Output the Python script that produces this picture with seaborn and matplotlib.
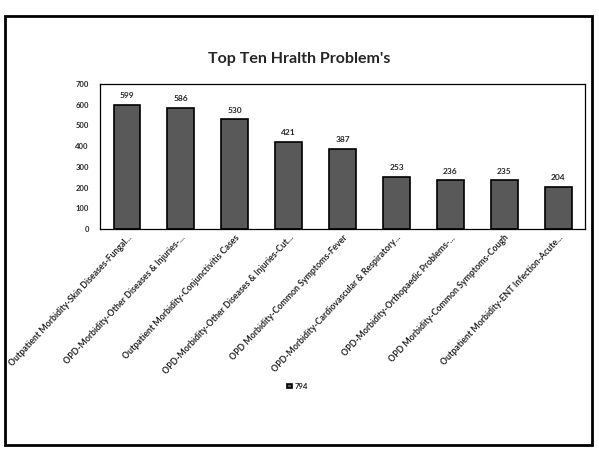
from matplotlib import pyplot as plt
from matplotlib.patches import Rectangle
import pandas as pd
import seaborn as sns

# data
problems = [
    "Outpatient Morbidity-Skin Diseases-Fungal...",
    "OPD-Morbidity-Other Diseases & Injuries-...",
    "Outpatient Morbidity-Conjunctivitis Cases",
    "OPD-Morbidity-Other Diseases & Injuries-Cut...",
    "OPD Morbidity-Common Symptoms-Fever",
    "OPD-Morbidity-Cardiovascular & Respiratory...",
    "OPD-Morbidity-Orthopaedic Problems-...",
    "OPD Morbidity-Common Symptoms-Cough",
    "Outpatient Morbidity-ENT Infection-Acute...",
]
counts = [599, 586, 530, 421, 387, 253, 236, 235, 204]
series_name = "794"

df = pd.DataFrame({"problem": problems, "count": counts})

sns.set_style("white")
plt.rcParams["font.family"] = ["Lato", "DejaVu Sans"]
fig = plt.figure(figsize=(5.99, 4.49), dpi=100)
ax = fig.add_axes([0.167, 0.49, 0.81, 0.323])

sns.barplot(data=df, x="problem", y="count", color="#595959", edgecolor="black",
            linewidth=1.2, width=0.5, saturation=1, label=series_name, ax=ax)

# value labels on top of the bars
for c in ax.containers:
    ax.bar_label(c, fmt="%d", padding=4, fontsize=6, fontweight="bold")

ax.set_ylim(0, 700)
ax.set_yticks(range(0, 701, 100))
ax.tick_params(axis="y", labelsize=5.5, length=0, pad=8)
for t in ax.get_yticklabels():
    t.set_fontweight("bold")
ax.set_xticks(range(len(problems)))
ax.set_xticklabels(problems, rotation=47, ha="right", rotation_mode="anchor",
                   fontsize=6.3, fontweight="bold")
ax.tick_params(axis="x", length=0, pad=3)
ax.set_xlabel("")
ax.set_ylabel("")
for s in ax.spines.values():
    s.set_color("black")
    s.set_linewidth(0.9)

fig.suptitle("Top Ten Hralth Problem's", x=0.5, y=0.885, fontsize=11.5,
             fontweight="bold")
ax.legend(loc="center", bbox_to_anchor=(0.497, 0.14),
          bbox_transform=fig.transFigure, frameon=False,
          prop={"size": 5.5, "weight": "bold"},
          handlelength=0.6, handleheight=0.6, handletextpad=0.4)

# slide frame
fig.patches.append(Rectangle((0.008, 0.01), 0.98, 0.955, transform=fig.transFigure,
                             fill=False, edgecolor="black", linewidth=2))

fig.savefig("out.png", dpi=100)
